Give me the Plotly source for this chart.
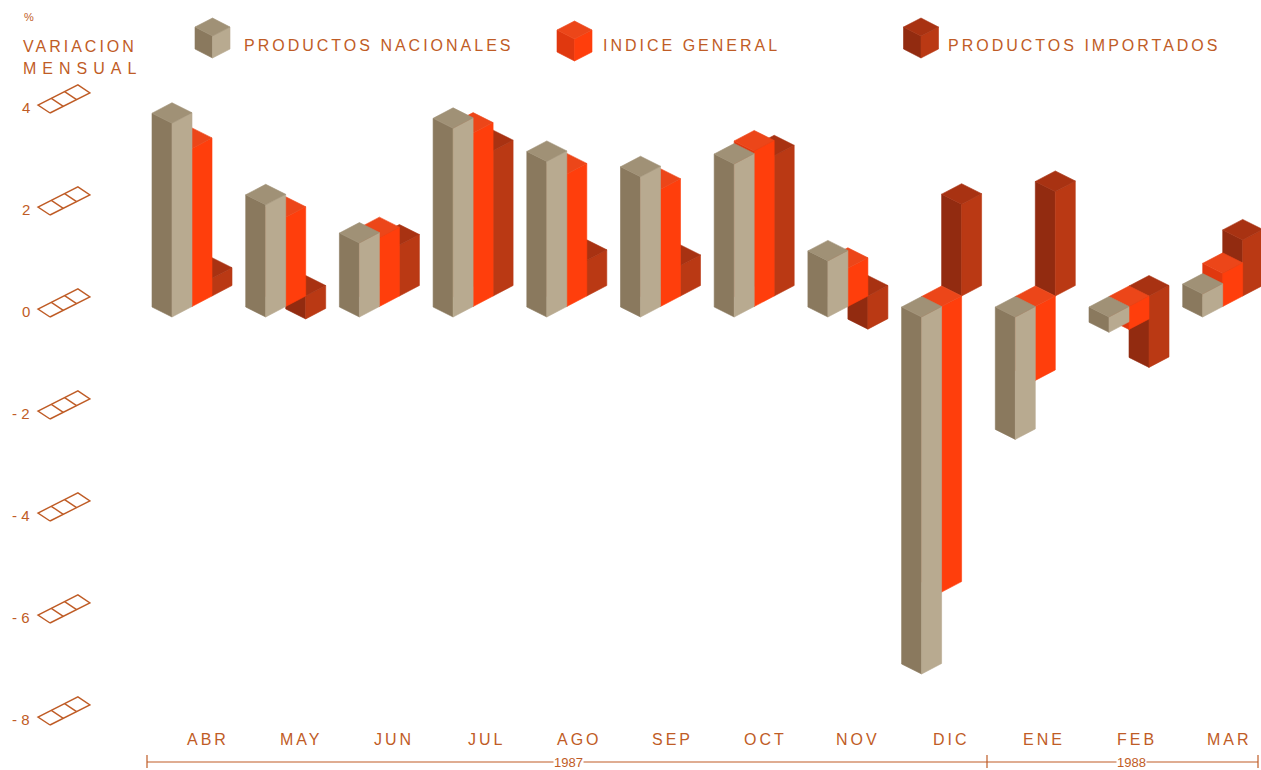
import plotly.graph_objects as go

# ---- data -------------------------------------------------------------
months = ["ABR", "MAY", "JUN", "JUL", "AGO", "SEP", "OCT", "NOV", "DIC", "ENE", "FEB", "MAR"]
nacionales = [3.8, 2.2, 1.45, 3.7, 3.05, 2.75, 3.0, 1.1, -7.0, -2.4, -0.3, 0.45]
indice_general = [3.1, 1.75, 1.35, 3.4, 2.6, 2.3, 3.05, 0.75, -5.6, -1.45, -0.45, 0.65]
importados = [0.35, -0.45, 1.0, 2.85, 0.7, 0.6, 2.75, -0.65, 1.8, 2.05, -1.4, 1.1]
y_ticks = [4, 2, 0, -2, -4, -6, -8]
years = ["1987", "1988"]

# ---- geometry of the drawing -----------------------------------------
W, H = 1261, 770
PX_PER_MONTH = 93.7
PX_PER_UNIT = 51.0
X0_PX = 172.0   # front corner of the first month's group
Y0_PX = 317.0   # zero level

x_range = [-X0_PX / PX_PER_MONTH, (W - X0_PX) / PX_PER_MONTH]
y_range = [(Y0_PX - H) / PX_PER_UNIT, Y0_PX / PX_PER_UNIT]

# isometric steps in pixels (dx right, dy up): depth axis A and side axis B
A_STEP = (20.0, 10.5)
B_STEP = (-20.0, 10.0)

TEXT = "#bf5c26"
FONT = "Liberation Sans, Arial, Helvetica, sans-serif"

series = [
    # name, values, depth slot, colours (left face, right face, top face)
    ("importados", importados, 2, ("#922b10", "#ba3914", "#a83212")),
    ("general", indice_general, 1, ("#e0380f", "#ff3e0c", "#ec4619")),
    ("nacionales", nacionales, 0, ("#8a795e", "#b8aa90", "#a09176")),
]


def proj(m, a, b, h):
    x = m + (a * A_STEP[0] + b * B_STEP[0]) / PX_PER_MONTH
    y = h + (a * A_STEP[1] + b * B_STEP[1]) / PX_PER_UNIT
    return x, y


def add_poly(xs, ys, pts):
    for p in pts:
        xs.append(p[0])
        ys.append(p[1])
    xs.append(pts[0][0])
    ys.append(pts[0][1])
    xs.append(None)
    ys.append(None)


fig = go.Figure()

# ---- isometric bars (drawn back to front) ----------------------------
for name, values, a, (c_left, c_right, c_top) in series:
    faces = {"left": ([], []), "right": ([], []), "top": ([], [])}
    for m, v in enumerate(values):
        lo, hi = min(v, 0.0), max(v, 0.0)
        add_poly(*faces["left"], [proj(m, a, 0, lo), proj(m, a, 1, lo),
                                  proj(m, a, 1, hi), proj(m, a, 0, hi)])
        add_poly(*faces["right"], [proj(m, a, 0, lo), proj(m, a + 1, 0, lo),
                                   proj(m, a + 1, 0, hi), proj(m, a, 0, hi)])
        add_poly(*faces["top"], [proj(m, a, 0, hi), proj(m, a + 1, 0, hi),
                                 proj(m, a + 1, 1, hi), proj(m, a, 1, hi)])
    for face, col in (("left", c_left), ("right", c_right), ("top", c_top)):
        xs, ys = faces[face]
        fig.add_trace(go.Scatter(
            x=xs, y=ys, mode="lines", fill="toself", fillcolor=col,
            line=dict(color=col, width=0.6), hoverinfo="skip", name=name,
        ))

# ---- value axis: little three-cell plates with numbers ----------------
ICON_X = (50.0 - X0_PX) / PX_PER_MONTH
CELL = (13.3, 6.7)
SIDE = (-12.0, 8.0)


def icon_pt(v, a, b):
    return (ICON_X + (a * CELL[0] + b * SIDE[0]) / PX_PER_MONTH,
            v + (a * CELL[1] + b * SIDE[1]) / PX_PER_UNIT)


ix, iy = [], []
for v in y_ticks:
    add_poly(ix, iy, [icon_pt(v, 0, 0), icon_pt(v, 3, 0), icon_pt(v, 3, 1), icon_pt(v, 0, 1)])
    for k in (1, 2):
        p, q = icon_pt(v, k, 0), icon_pt(v, k, 1)
        ix += [p[0], q[0], None]
        iy += [p[1], q[1], None]
    label = str(v).replace("-", "- ") if v < 0 else str(v)
    fig.add_annotation(x=ICON_X, y=v, xref="x", yref="y", text=label,
                       showarrow=False, xanchor="right", yanchor="middle",
                       xshift=-18, yshift=6,
                       font=dict(family=FONT, size=15, color=TEXT))
fig.add_trace(go.Scatter(x=ix, y=iy, mode="lines", line=dict(color=TEXT, width=1.4),
                         hoverinfo="skip"))

# ---- month labels -----------------------------------------------------
for i, mname in enumerate(months):
    fig.add_annotation(x=(208.0 + i * 92.9 - X0_PX) / PX_PER_MONTH, y=739,
                       xref="x", yref="y2", text=f"<span style='letter-spacing:3px'>{mname}</span>",
                       showarrow=False, xanchor="center", yanchor="middle",
                       font=dict(family=FONT, size=16, color=TEXT))

# ---- year bracket (pixel overlay axes) ---------------------------------
BRACKET_Y = 762
bx = [147, 1258, None, 147, 147, None, 987, 987, None, 1258, 1258]
by = [BRACKET_Y, BRACKET_Y, None, BRACKET_Y - 7, BRACKET_Y + 6, None,
      BRACKET_Y - 7, BRACKET_Y + 6, None, BRACKET_Y - 7, BRACKET_Y + 6]
fig.add_trace(go.Scatter(x=bx, y=by, xaxis="x2", yaxis="y2", mode="lines",
                         line=dict(color=TEXT, width=1.2), hoverinfo="skip"))
for yr, cx in zip(years, (568, 1131)):
    fig.add_annotation(x=cx, y=BRACKET_Y, xref="x2", yref="y2", text=yr, showarrow=False,
                       xanchor="center", yanchor="middle", bgcolor="white",
                       borderpad=0, font=dict(family=FONT, size=13, color=TEXT))

# ---- legend cubes and titles -------------------------------------------
def cube(cx, yb, cols, sx=17.5, sy=9.0, hgt=22.0):
    c_left, c_right, c_top = cols
    left = [(cx, yb), (cx - sx, yb - sy), (cx - sx, yb - sy - hgt), (cx, yb - hgt)]
    right = [(cx, yb), (cx + sx, yb - sy), (cx + sx, yb - sy - hgt), (cx, yb - hgt)]
    top = [(cx, yb - hgt), (cx - sx, yb - sy - hgt), (cx, yb - 2 * sy - hgt), (cx + sx, yb - sy - hgt)]
    for pts, col in ((left, c_left), (right, c_right), (top, c_top)):
        xs, ys = [], []
        add_poly(xs, ys, pts)
        fig.add_trace(go.Scatter(x=xs, y=ys, xaxis="x2", yaxis="y2", mode="lines",
                                 fill="toself", fillcolor=col, line=dict(color=col, width=0.6),
                                 hoverinfo="skip"))


legend_items = [
    ("PRODUCTOS NACIONALES", 212.5, 58, 242, series[2][3]),
    ("INDICE GENERAL", 574.5, 61, 601, series[1][3]),
    ("PRODUCTOS IMPORTADOS", 921, 58, 946, series[0][3]),
]
for label, cx, yb, tx, cols in legend_items:
    cube(cx, yb, cols)
    fig.add_annotation(x=tx, y=45, xref="x2", yref="y2",
                       text=f"<span style='letter-spacing:3px'>{label}</span>",
                       showarrow=False, xanchor="left", yanchor="middle",
                       font=dict(family=FONT, size=16, color=TEXT))

fig.add_annotation(x=22, y=17, xref="x2", yref="y2", text="%", showarrow=False,
                   xanchor="left", yanchor="middle", font=dict(family=FONT, size=11, color=TEXT))
fig.add_annotation(x=21, y=46, xref="x2", yref="y2",
                   text="<span style='letter-spacing:3px'>VARIACION</span>", showarrow=False,
                   xanchor="left", yanchor="middle", font=dict(family=FONT, size=16, color=TEXT))
fig.add_annotation(x=21, y=68, xref="x2", yref="y2",
                   text="<span style='letter-spacing:6px'>MENSUAL</span>", showarrow=False,
                   xanchor="left", yanchor="middle", font=dict(family=FONT, size=16, color=TEXT))

fig.update_layout(
    width=W, height=H, margin=dict(l=0, r=0, t=0, b=0),
    paper_bgcolor="white", plot_bgcolor="white", showlegend=False,
    xaxis=dict(range=x_range, visible=False, domain=[0, 1], fixedrange=True),
    yaxis=dict(range=y_range, visible=False, domain=[0, 1], fixedrange=True),
    xaxis2=dict(range=[0, W], visible=False, overlaying="x", fixedrange=True),
    yaxis2=dict(range=[H, 0], visible=False, overlaying="y", fixedrange=True),
)

fig.write_html("out.html")
